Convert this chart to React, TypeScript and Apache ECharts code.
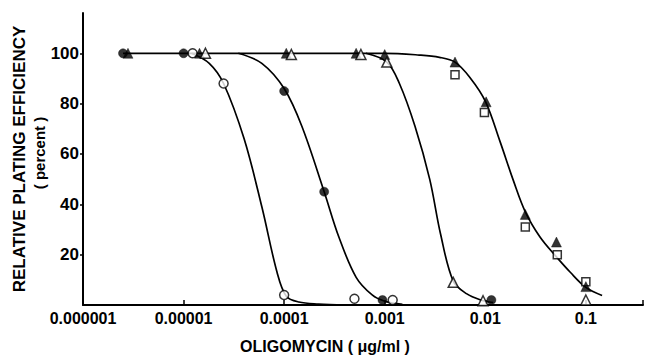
import React, { useEffect, useRef } from "react";
import * as echarts from "echarts";

// ---- tick labels ----
const X_TICK_LABELS = ["0.000001", "0.00001", "0.0001", "0.001", "0.01", "0.1"];
const Y_TICKS = [20, 40, 60, 80, 100];

// ---- data points (concentration µg/ml, relative plating efficiency %) ----
const openCircleX = [1.23e-5, 2.5e-5, 1e-4, 5e-4, 1.2e-3];
const openCircleY = [100, 88, 4, 2.5, 2];

const filledCircleX = [2.5e-6, 1e-5, 1e-4, 2.5e-4, 9.5e-4, 1.15e-2];
const filledCircleY = [100, 100, 85, 45, 2, 2];

const openTriX = [1.65e-5, 1.18e-4, 5.8e-4, 1.05e-3, 4.8e-3, 9.5e-3, 0.1];
const openTriY = [100, 99.5, 99.5, 96.5, 9, 1.7, 2];

const filledTriX = [2.8e-6, 1.44e-5, 1.05e-4, 5.2e-4, 1e-3, 5e-3, 1.02e-2, 2.5e-2, 5.1e-2, 0.1];
const filledTriY = [100, 100, 100, 100, 99.5, 96.5, 80.7, 36, 25, 7.3];

const squareX = [5e-3, 9.8e-3, 2.5e-2, 5.2e-2, 0.1];
const squareY = [91.5, 76.5, 31, 20, 9.2];

// ---- fitted curves ----
const curveAX = [1.2e-5, 1.8e-5, 2.5e-5, 4e-5, 6e-5, 8.5e-5, 1.05e-4, 1.4e-4, 2.2e-4, 4e-4];
const curveAY = [100, 96, 88, 66, 39, 13, 3.5, 1.2, 0.4, 0];

const curveBX = [3.5e-5, 6e-5, 1e-4, 1.5e-4, 2.5e-4, 3.5e-4, 5.2e-4, 7.5e-4, 1e-3, 1.5e-3];
const curveBY = [100, 96, 86, 71, 45, 27, 11, 4, 1.5, 0.3];

const curveCX = [6.5e-4, 1.05e-3, 1.4e-3, 2e-3, 2.8e-3, 3.6e-3, 4.8e-3, 6.5e-3, 9e-3, 1.2e-2];
const curveCY = [100, 96.5, 88, 71, 50, 28, 9.5, 4.5, 2, 1];

const curveDX = [2.5e-6, 1e-3, 2.2e-3, 3.5e-3, 5e-3, 7e-3, 1e-2, 1.4e-2, 1.9e-2, 2.5e-2, 3.5e-2, 5e-2, 7e-2, 1e-1, 0.145];
const curveDY = [100, 100, 99.3, 98.4, 96.5, 90.5, 81, 65, 49.5, 37, 27, 19.5, 13, 7, 3.8];

const FONT = '"Liberation Sans", Arial, Helvetica, sans-serif';

const zip = (xs: number[], ys: number[]) => xs.map((x, i) => [x, ys[i]]);

export default function App() {
  const ref = useRef<HTMLDivElement>(null);

  useEffect(() => {
    document.body.style.margin = "0";
    if (!ref.current) return;
    const chart = echarts.init(ref.current, undefined, { renderer: "svg" });

    const curve = (name: string, xs: number[], ys: number[]) => ({
      name,
      type: "line",
      data: zip(xs, ys),
      showSymbol: false,
      symbol: "none",
      smooth: 0.35,
      lineStyle: { color: "#000", width: 1.7 },
      z: 2,
      silent: true,
    });

    const marks = (name: string, xs: number[], ys: number[], symbol: string, size: number, filled: boolean) => ({
      name,
      type: "scatter",
      data: zip(xs, ys),
      symbol,
      symbolSize: size,
      itemStyle: filled
        ? { color: "#000", borderColor: "#000", borderWidth: 0.5 }
        : { color: "#fff", borderColor: "#000", borderWidth: 1.5 },
      z: 5,
    });

    chart.setOption({
      animation: false,
      backgroundColor: "#fff",
      grid: { left: 83, right: 1, top: 13, bottom: 53, containLabel: false },
      xAxis: {
        type: "log",
        logBase: 10,
        min: 1e-6,
        max: 0.37,
        axisLine: { show: true, lineStyle: { color: "#000", width: 2 } },
        axisTick: { show: true, inside: true, length: 5, lineStyle: { color: "#000", width: 1.5 } },
        minorTick: { show: false },
        splitLine: { show: false },
        axisLabel: {
          color: "#000",
          fontFamily: FONT,
          fontWeight: "bold",
          fontSize: 16,
          margin: 5,
          formatter: (v: number) => {
            const e = Math.log10(v);
            const r = Math.round(e);
            if (Math.abs(e - r) > 0.01) return "";
            return X_TICK_LABELS[r + 6] ?? "";
          },
        },
      },
      yAxis: {
        type: "value",
        min: 0,
        max: 116,
        interval: 20,
        axisLine: { show: true, lineStyle: { color: "#000", width: 2 } },
        axisTick: { show: true, inside: false, length: 3, lineStyle: { color: "#000", width: 1.5 }, customValues: Y_TICKS },
        splitLine: { show: false },
        axisLabel: {
          color: "#000",
          fontFamily: FONT,
          fontWeight: "bold",
          fontSize: 17,
          margin: 4,
          customValues: Y_TICKS,
        },
      },
      graphic: [
        {
          type: "text",
          x: 19,
          y: 159,
          rotation: Math.PI / 2,
          style: {
            text: "RELATIVE PLATING EFFICIENCY",
            fill: "#000",
            fontFamily: FONT,
            fontWeight: "bold",
            fontSize: 17,
            align: "center",
            verticalAlign: "middle",
          },
        },
        {
          type: "text",
          x: 39,
          y: 153,
          rotation: Math.PI / 2,
          style: {
            text: "( percent )",
            fill: "#000",
            fontFamily: FONT,
            fontWeight: "bold",
            fontSize: 15,
            align: "center",
            verticalAlign: "middle",
          },
        },
        {
          type: "text",
          x: 325,
          y: 346,
          style: {
            text: "OLIGOMYCIN ( μg/ml )",
            fill: "#000",
            fontFamily: FONT,
            fontWeight: "bold",
            fontSize: 16,
            align: "center",
            verticalAlign: "middle",
          },
        },
      ],
      series: [
        curve("curveA", curveAX, curveAY),
        curve("curveB", curveBX, curveBY),
        curve("curveC", curveCX, curveCY),
        curve("curveD", curveDX, curveDY),
        marks("open circles", openCircleX, openCircleY, "circle", 9, false),
        marks("filled circles", filledCircleX, filledCircleY, "circle", 9, true),
        marks("open squares", squareX, squareY, "rect", 8, false),
        marks("filled triangles", filledTriX, filledTriY, "triangle", 10, true),
        marks("open triangles", openTriX, openTriY, "triangle", 10, false),
      ],
    });

    return () => chart.dispose();
  }, []);

  return <div ref={ref} style={{ width: 646, height: 358 }} />;
}
